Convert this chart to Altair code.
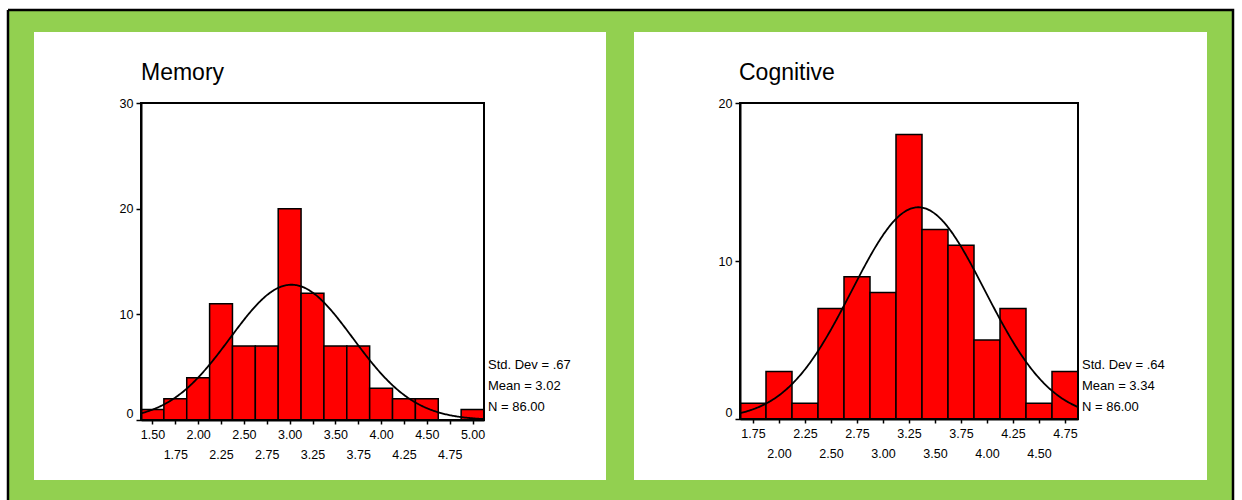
import altair as alt
import pandas as pd

# ---------------- data ----------------
BIN_WIDTH = 0.25

mem_centers = [1.50, 1.75, 2.00, 2.25, 2.50, 2.75, 3.00, 3.25, 3.50, 3.75, 4.00, 4.25, 4.50, 4.75, 5.00]
mem_counts = [1, 2, 4, 11, 7, 7, 20, 12, 7, 7, 3, 2, 2, 0, 1]
mem_stats = ["Std. Dev = .67", "Mean = 3.02", "N = 86.00"]
mem_mean, mem_sd, mem_n = 3.02, 0.67, 86
mem_yticks = [0, 10, 20, 30]

cog_centers = [1.75, 2.00, 2.25, 2.50, 2.75, 3.00, 3.25, 3.50, 3.75, 4.00, 4.25, 4.50, 4.75]
cog_counts = [1, 3, 1, 7, 9, 8, 18, 12, 11, 5, 7, 1, 3]
cog_stats = ["Std. Dev = .64", "Mean = 3.34", "N = 86.00"]
cog_mean, cog_sd, cog_n = 3.34, 0.64, 86
cog_yticks = [0, 10, 20]

FONT = "Liberation Sans"
W, H = 1225, 490


def dummy():
    return pd.DataFrame({"a": [0]})


def panel(title, centers, counts, stats, mean, sd, n, yticks,
          xrange, yrange, parity, title_x, stats_x):
    lo = centers[0] - BIN_WIDTH / 2
    hi = centers[-1] + BIN_WIDTH / 2
    ymax = yticks[-1]

    def xs():
        return alt.Scale(domain=[lo, hi], range=xrange, nice=False, zero=False)

    def ys():
        return alt.Scale(domain=[0, ymax], range=yrange, nice=False, zero=False)

    xaxis = alt.Axis(
        orient="bottom", offset=yrange[0] - H, values=centers, format=".2f",
        labelExpr=f"(round(datum.value*4) % 2 == {parity}) ? datum.label : ['', datum.label]",
        labelLineHeight=20, labelOverlap=False, labelFlush=False, labelBound=False,
        tickSize=4, tickWidth=1.5, labelPadding=4, grid=False, title=None,
        domainWidth=2, labelFontSize=12.5, zindex=1,
    )
    yaxis = alt.Axis(
        orient="left", offset=-xrange[0], values=yticks, format="d",
        labelOverlap=False, labelFlush=False, tickSize=5, tickWidth=1.5,
        labelPadding=3, grid=False, title=None, domainWidth=2, labelFontSize=12.5,
        labelBaseline=alt.ExprRef(expr="datum.value == 0 ? 'bottom' : 'middle'"),
        zindex=1,
    )

    df = pd.DataFrame({
        "lo": [c - BIN_WIDTH / 2 for c in centers],
        "hi": [c + BIN_WIDTH / 2 for c in centers],
        "count": counts,
    })
    bars = alt.Chart(df).mark_rect(fill="#FF0000", stroke="black", strokeWidth=1.5).encode(
        x=alt.X("lo:Q", scale=xs(), axis=xaxis),
        x2="hi:Q",
        y=alt.Y("count:Q", scale=ys(), axis=yaxis),
        y2=alt.datum(0),
    )

    curve = alt.Chart(alt.sequence(lo, hi + 0.001, 0.01, as_="v")).transform_calculate(
        d=f"{n * BIN_WIDTH}*exp(-0.5*pow((datum.v-{mean})/{sd},2))/({sd}*sqrt(2*PI))"
    ).mark_line(color="black", strokeWidth=1.8).encode(
        x=alt.X("v:Q", scale=xs(), axis=None),
        y=alt.Y("d:Q", scale=ys(), axis=None),
    )

    frame_df = pd.DataFrame({"x0": [lo], "x1": [hi], "y0": [0], "y1": [ymax]})
    frame = alt.Chart(frame_df).mark_rect(fillOpacity=0, stroke="black", strokeWidth=2).encode(
        x=alt.X("x0:Q", scale=xs(), axis=None), x2="x1:Q",
        y=alt.Y("y0:Q", scale=ys(), axis=None), y2="y1:Q",
    )

    layers = [bars, curve, frame]
    ttl = alt.Chart(dummy()).mark_text(
        align="left", baseline="alphabetic", fontSize=23, font=FONT, color="black"
    ).encode(x=alt.value(title_x), y=alt.value(70), text=alt.value(title))
    layers.append(ttl)
    for i, s in enumerate(stats):
        layers.append(
            alt.Chart(dummy()).mark_text(
                align="left", baseline="middle", fontSize=13, font=FONT, color="black"
            ).encode(x=alt.value(stats_x), y=alt.value(355 + 21 * i), text=alt.value(s))
        )
    return layers


bg_left = alt.Chart(dummy()).mark_rect(fill="white").encode(
    x=alt.value(26), x2=alt.value(598), y=alt.value(22), y2=alt.value(470))
bg_right = alt.Chart(dummy()).mark_rect(fill="white").encode(
    x=alt.value(626), x2=alt.value(1199), y=alt.value(22), y2=alt.value(470))

left = panel("Memory", mem_centers, mem_counts, mem_stats, mem_mean, mem_sd, mem_n,
             mem_yticks, [133, 476], [410, 93], 0, 133, 480)
right = panel("Cognitive", cog_centers, cog_counts, cog_stats, cog_mean, cog_sd, cog_n,
              cog_yticks, [732, 1070], [409, 93], 1, 731, 1074)

chart = alt.layer(bg_left, bg_right, *left, *right).resolve_scale(
    x="independent", y="independent"
).resolve_axis(
    x="independent", y="independent"
).properties(
    width=W, height=H,
    padding={"left": 8, "top": 10, "right": 9, "bottom": 0},
    autosize=alt.AutoSizeParams(type="none"),
    background="white",
).configure_view(
    fill="#92D050", stroke="black", strokeWidth=2.5,
    strokeDash=[W + H, W, H, 0],
).configure_axis(
    labelFont=FONT, labelColor="black", tickColor="black", domainColor="black",
)

chart.save("out.html", embed_options={"renderer": "svg", "actions": False})
